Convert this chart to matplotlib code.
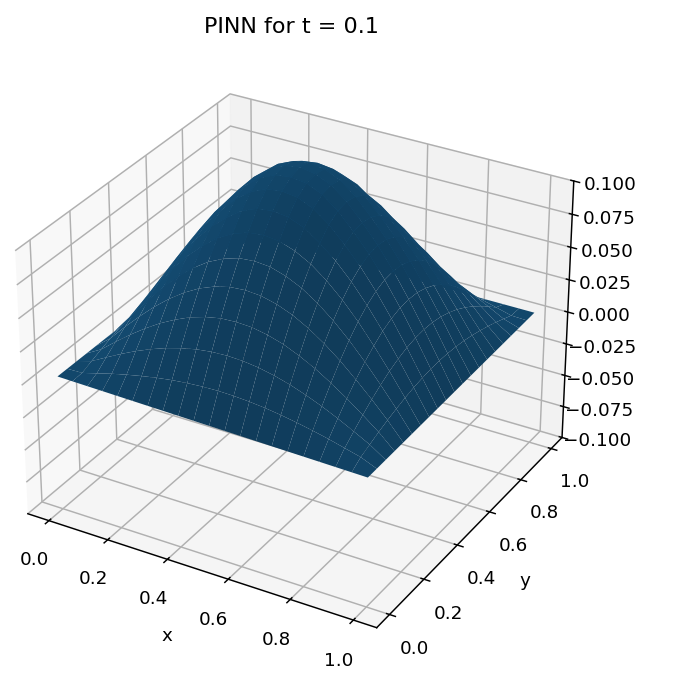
import numpy as np
from matplotlib import pyplot as plt
from matplotlib.colors import LightSource

# surface heights, 21 x 21 grid, rows are y, columns are x
x_vals = [0.0, 0.05, 0.1, 0.15, 0.2, 0.25, 0.3, 0.35, 0.4, 0.45, 0.5, 0.55, 0.6, 0.65, 0.7, 0.75, 0.8, 0.85, 0.9, 0.95, 1.0]
y_vals = [0.0, 0.05, 0.1, 0.15, 0.2, 0.25, 0.3, 0.35, 0.4, 0.45, 0.5, 0.55, 0.6, 0.65, 0.7, 0.75, 0.8, 0.85, 0.9, 0.95, 1.0]
z_vals = [
    [.003, .00275, .0025, .00225, .002, .00175, .0015, .00125, .001, .00075, .0005, .00025, 0, -.00025, -.0005, -.00075, -.001, -.00125, -.0015, -.00175, -.002],
    [.003, .0032, .0063, .0094, .0121, .0145, .0166, .0183, .0195, .0203, .0206, .0203, .0195, .0183, .0166, .0145, .0121, .0094, .0063, .0032, -.00175],
    [.003, .0063, .0125, .0185, .0240, .0288, .0330, .0363, .0388, .0403, .0408, .0403, .0388, .0363, .0330, .0288, .0240, .0185, .0125, .0063, -.0015],
    [.003, .0094, .0185, .0272, .0352, .0424, .0484, .0535, .0570, .0593, .0599, .0593, .0570, .0535, .0484, .0424, .0352, .0272, .0185, .0094, -.00125],
    [.003, .0121, .0240, .0352, .0457, .0549, .0628, .0692, .0738, .0767, .0776, .0767, .0738, .0692, .0628, .0549, .0457, .0352, .0240, .0121, -.001],
    [.003, .0145, .0288, .0424, .0549, .0660, .0755, .0832, .0887, .0923, .0933, .0923, .0887, .0832, .0755, .0660, .0549, .0424, .0288, .0145, -.00075],
    [.003, .0166, .0330, .0484, .0628, .0755, .0863, .0952, .1015, .1055, .1068, .1055, .1015, .0952, .0863, .0755, .0628, .0484, .0330, .0166, -.0005],
    [.003, .0183, .0363, .0535, .0692, .0832, .0952, .1048, .1130, .1175, .1190, .1175, .1130, .1048, .0952, .0832, .0692, .0535, .0363, .0183, -.00025],
    [.003, .0195, .0388, .0570, .0738, .0887, .1015, .1130, .1215, .1265, .1280, .1265, .1215, .1130, .1015, .0887, .0738, .0570, .0388, .0195, 0],
    [.003, .0203, .0403, .0593, .0767, .0923, .1055, .1175, .1265, .1315, .1330, .1315, .1265, .1175, .1055, .0923, .0767, .0593, .0403, .0203, .00025],
    [.003, .0206, .0408, .0599, .0776, .0933, .1068, .1190, .1280, .1330, .1350, .1330, .1280, .1190, .1068, .0933, .0776, .0599, .0408, .0206, .0005],
    [.003, .0203, .0403, .0593, .0767, .0923, .1055, .1175, .1265, .1315, .1330, .1315, .1265, .1175, .1055, .0923, .0767, .0593, .0403, .0203, .00075],
    [.003, .0195, .0388, .0570, .0738, .0887, .1015, .1130, .1215, .1265, .1280, .1265, .1215, .1130, .1015, .0887, .0738, .0570, .0388, .0195, .001],
    [.003, .0183, .0363, .0535, .0692, .0832, .0952, .1048, .1130, .1175, .1190, .1175, .1130, .1048, .0952, .0832, .0692, .0535, .0363, .0183, .00125],
    [.003, .0166, .0330, .0484, .0628, .0755, .0863, .0952, .1015, .1055, .1068, .1055, .1015, .0952, .0863, .0755, .0628, .0484, .0330, .0166, .0015],
    [.003, .0145, .0288, .0424, .0549, .0660, .0755, .0832, .0887, .0923, .0933, .0923, .0887, .0832, .0755, .0660, .0549, .0424, .0288, .0145, .00175],
    [.003, .0121, .0240, .0352, .0457, .0549, .0628, .0692, .0738, .0767, .0776, .0767, .0738, .0692, .0628, .0549, .0457, .0352, .0240, .0121, .002],
    [.003, .0094, .0185, .0272, .0352, .0424, .0484, .0535, .0570, .0593, .0599, .0593, .0570, .0535, .0484, .0424, .0352, .0272, .0185, .0094, .00225],
    [.003, .0063, .0125, .0185, .0240, .0288, .0330, .0363, .0388, .0403, .0408, .0403, .0388, .0363, .0330, .0288, .0240, .0185, .0125, .0063, .0025],
    [.003, .0032, .0063, .0094, .0121, .0145, .0166, .0183, .0195, .0203, .0206, .0203, .0195, .0183, .0166, .0145, .0121, .0094, .0063, .0032, .00275],
    [.003, .003, .003, .003, .003, .003, .003, .003, .003, .003, .003, .003, .003, .003, .003, .003, .003, .003, .003, .003, .003],
]

X, Y = np.meshgrid(x_vals, y_vals)
Z = np.array(z_vals, dtype=float)

plt.rcParams['font.size'] = 13.2
plt.rcParams['axes.linewidth'] = 1.05
plt.rcParams['grid.linewidth'] = 1.05
plt.rcParams['xtick.major.width'] = 1.05
plt.rcParams['ytick.major.width'] = 1.05

fig = plt.figure(figsize=(6.81, 6.82), dpi=100)
ax = fig.add_subplot(111, projection='3d')
ax.set_position([-0.028, 0.0215, 0.912, 0.912])
# rows flipped so the facets face down, light set so the back slopes come out lighter
ls = LightSource(azdeg=135, altdeg=9)
ax.plot_surface(X[::-1], Y[::-1], Z[::-1], lightsource=ls)
ax.set_zlim(-0.1, 0.1)
ax.set_xlabel('x', labelpad=13)
ax.set_ylabel('y', labelpad=13)
ax.tick_params(axis='x', pad=8)
ax.tick_params(axis='y', pad=8)
ax.tick_params(axis='z', pad=8)
ax.set_title('PINN for t = 0.1', fontsize=16, x=0.4992, pad=9)

fig.savefig('out.png', dpi=100)
